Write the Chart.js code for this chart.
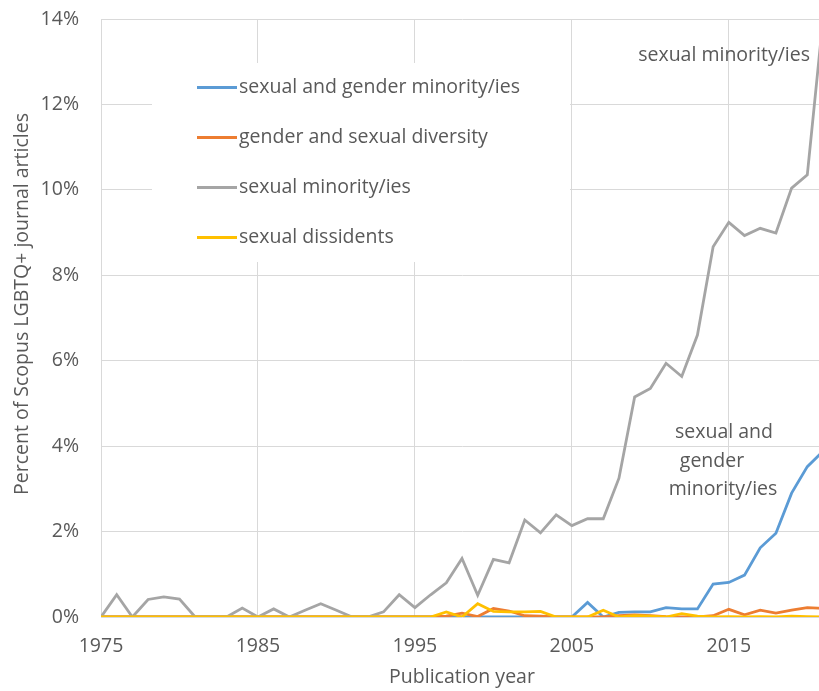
<!DOCTYPE html>
<html>
<head>
<meta charset="utf-8">
<script src="https://cdn.jsdelivr.net/npm/chart.js@4.4.1/dist/chart.umd.min.js"></script>
<style>
  html, body { margin: 0; padding: 0; background: #fff; overflow: hidden; }
  #wrap { position: relative; width: 835px; height: 691px; }
</style>
</head>
<body>
<div id="wrap"><canvas id="lineChart"></canvas></div>
<script>
var years = [1975, 1976, 1977, 1978, 1979, 1980, 1981, 1982, 1983, 1984,
             1985, 1986, 1987, 1988, 1989, 1990, 1991, 1992, 1993, 1994,
             1995, 1996, 1997, 1998, 1999, 2000, 2001, 2002, 2003, 2004,
             2005, 2006, 2007, 2008, 2009, 2010, 2011, 2012, 2013, 2014,
             2015, 2016, 2017, 2018, 2019, 2020, 2021];

// percent of articles per year
var sgm = [0, 0, 0, 0, 0, 0, 0, 0, 0, 0,
           0, 0, 0, 0, 0, 0, 0, 0, 0, 0,
           0, 0, 0, 0, 0, 0, 0, 0, 0, 0,
           0, 0.34, 0, 0.11, 0.12, 0.12, 0.22, 0.19, 0.19, 0.77,
           0.81, 0.98, 1.62, 1.96, 2.90, 3.52, 3.88];
var gsd = [0, 0, 0, 0, 0, 0, 0, 0, 0, 0,
           0, 0, 0, 0, 0, 0, 0, 0, 0, 0,
           0, 0, 0.02, 0.09, 0.01, 0.20, 0.14, 0.03, 0.02, 0,
           0, 0, 0, 0.03, 0.05, 0.03, 0.01, 0, 0, 0.03,
           0.18, 0.05, 0.16, 0.09, 0.16, 0.22, 0.20];
var sm  = [0, 0.52, 0, 0.41, 0.47, 0.42, 0, 0, 0, 0.21,
           0, 0.19, 0, 0.16, 0.31, 0.16, 0, 0, 0.12, 0.52,
           0.22, 0.52, 0.80, 1.37, 0.51, 1.35, 1.27, 2.27, 1.97, 2.39,
           2.14, 2.30, 2.30, 3.25, 5.15, 5.35, 5.94, 5.63, 6.60, 8.67,
           9.24, 8.93, 9.10, 8.99, 10.04, 10.35, 14.0];
var sd  = [0, 0, 0, 0, 0, 0, 0, 0, 0, 0,
           0, 0, 0, 0, 0, 0, 0, 0, 0, 0,
           0, 0, 0.12, 0, 0.31, 0.13, 0.12, 0.12, 0.13, 0,
           0, 0, 0.16, 0, 0.03, 0.02, 0, 0.08, 0.02, 0,
           0.01, 0, 0.01, 0, 0.02, 0.01, 0];

var seriesNames = ["sexual and gender minority/ies", "gender and sexual diversity",
                   "sexual minority/ies", "sexual dissidents"];
var xTicks = [1975, 1985, 1995, 2005, 2015];
var yTicks = [0, 2, 4, 6, 8, 10, 12, 14];

var FONT = "'Open Sans', sans-serif";
var FSIZE = 19.5;
var TXT = "#595959";
var LW = 2.8;

function pts(vals) {
    return years.map(function (y, i) { return { x: y, y: vals[i] }; });
}

function ds(label, vals, color, order) {
    return {
        label: label,
        data: pts(vals),
        borderColor: color,
        backgroundColor: color,
        borderWidth: LW,
        pointRadius: 0,
        tension: 0,
        order: order
    };
}

// legend box drawn inside the plot, like the original
var innerLegend = {
    id: 'innerLegend',
    afterDatasetsDraw: function (chart) {
        var c = chart.ctx;
        c.save();
        c.fillStyle = '#fff';
        c.fillRect(152, 63, 418, 199);
        c.font = FSIZE + "px " + FONT;
        c.textBaseline = 'middle';
        chart.data.datasets.forEach(function (d, i) {
            var y = 87.5 + i * 50;
            c.strokeStyle = d.borderColor;
            c.lineWidth = LW;
            c.beginPath();
            c.moveTo(197, y);
            c.lineTo(237, y);
            c.stroke();
            c.fillStyle = TXT;
            c.fillText(d.label, 239, y);
        });
        c.restore();
    }
};

var notes = {
    id: 'notes',
    afterDatasetsDraw: function (chart) {
        var c = chart.ctx;
        c.save();
        c.font = FSIZE + "px " + FONT;
        c.fillStyle = TXT;
        c.textBaseline = 'middle';
        c.textAlign = 'right';
        c.fillText("sexual minority/ies", 810, 55);
        c.textAlign = 'center';
        c.fillText("sexual and", 724, 432);
        c.fillText("gender", 712, 461);
        c.fillText("minority/ies", 723, 489);
        // axis title, centred where the original puts it
        c.translate(22, 304);
        c.rotate(-Math.PI / 2);
        c.fillText("Percent of Scopus LGBTQ+ journal articles", 0, 0);
        c.restore();
    }
};

window.onload = function () {
    var ctx = document.getElementById("lineChart").getContext('2d');
    new Chart(ctx, {
        type: 'line',
        data: {
            datasets: [
                ds(seriesNames[0], sgm, '#5B9BD5', 3),
                ds(seriesNames[1], gsd, '#ED7D31', 2),
                ds(seriesNames[2], sm, '#A5A5A5', 1),
                ds(seriesNames[3], sd, '#FFC000', 0)
            ]
        },
        options: {
            responsive: true,
            maintainAspectRatio: false,
            animation: false,
            layout: { padding: { top: 19, right: 12, left: 0, bottom: 0 } },
            plugins: {
                legend: { display: false },
                tooltip: { enabled: false }
            },
            scales: {
                x: {
                    type: 'linear',
                    min: 1975,
                    max: 2021,
                    afterBuildTicks: function (s) {
                        s.ticks = xTicks.map(function (v) { return { value: v }; });
                    },
                    afterFit: function (s) { s.height = 74; },
                    grid: { color: '#D9D9D9', tickColor: 'transparent', tickLength: 16 },
                    border: { display: false },
                    ticks: {
                        color: TXT,
                        font: { family: FONT, size: FSIZE },
                        padding: 2,
                        maxRotation: 0,
                        autoSkip: false,
                        callback: function (v) { return String(v); }
                    },
                    title: {
                        display: true,
                        text: 'Publication year',
                        color: TXT,
                        font: { family: FONT, size: FSIZE },
                        padding: { top: 0, bottom: 2 }
                    }
                },
                y: {
                    min: 0,
                    max: 14,
                    afterBuildTicks: function (s) {
                        s.ticks = yTicks.map(function (v) { return { value: v }; });
                    },
                    afterFit: function (s) { s.width = 101; },
                    grid: { color: '#D9D9D9', tickColor: 'transparent', tickLength: 19 },
                    border: { display: true, color: '#D9D9D9' },
                    ticks: {
                        color: TXT,
                        font: { family: FONT, size: FSIZE },
                        padding: 3,
                        callback: function (v) { return v + '%'; }
                    },
                    title: { display: false }
                }
            }
        },
        plugins: [innerLegend, notes]
    });
};
</script>
</body>
</html>
